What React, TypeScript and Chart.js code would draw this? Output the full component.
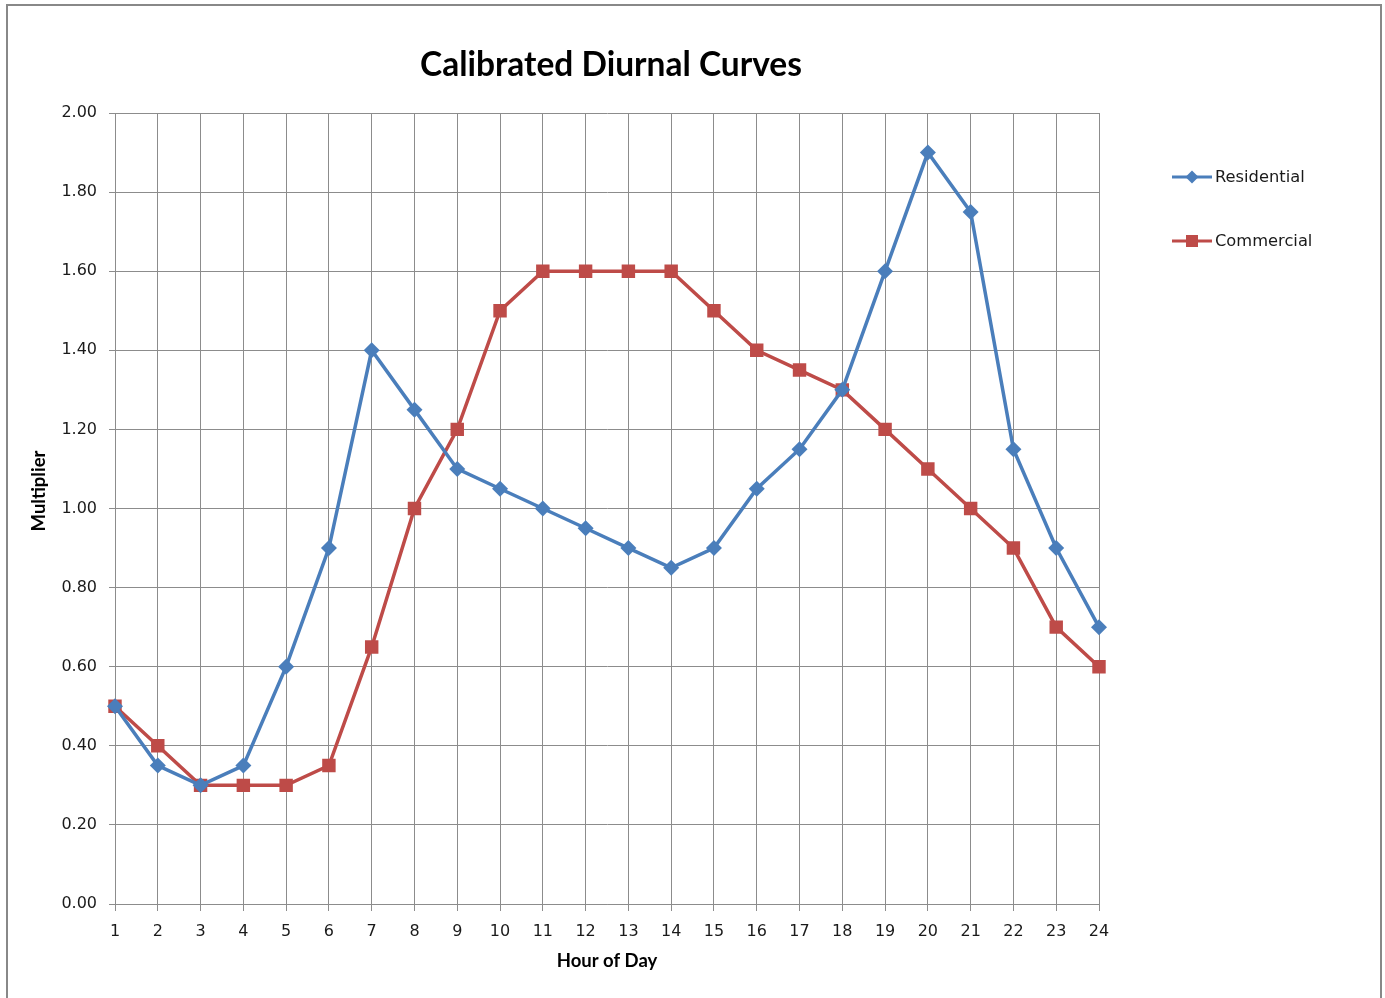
import React, { useEffect, useRef } from "react";
import { Chart, registerables } from "chart.js";

Chart.register(...registerables);

const hours: string[] = ["1","2","3","4","5","6","7","8","9","10","11","12","13","14","15","16","17","18","19","20","21","22","23","24"];
const residential: number[] = [0.5,0.35,0.3,0.35,0.6,0.9,1.4,1.25,1.1,1.05,1.0,0.95,0.9,0.85,0.9,1.05,1.15,1.3,1.6,1.9,1.75,1.15,0.9,0.7];
const commercial: number[] = [0.5,0.4,0.3,0.3,0.3,0.35,0.65,1.0,1.2,1.5,1.6,1.6,1.6,1.6,1.5,1.4,1.35,1.3,1.2,1.1,1.0,0.9,0.7,0.6];
const seriesNames: string[] = ["Residential", "Commercial"];
const chartTitle = "Calibrated Diurnal Curves";
const yTitle = "Multiplier";
const xTitle = "Hour of Day";

const BLUE = "#4A7EBB";
const RED = "#BE4B48";
const GRID = "#8c8c8c";
const TICK_FONT = "'DejaVu Sans', sans-serif";
const TITLE_FONT = "Lato, 'Open Sans', sans-serif";

const framePlugin = {
  id: "frame",
  beforeDraw(chart: any) {
    const ctx = chart.ctx;
    ctx.save();
    ctx.fillStyle = "#ffffff";
    ctx.fillRect(0, 0, chart.width, chart.height);
    ctx.strokeStyle = "#888888";
    ctx.lineWidth = 2;
    ctx.strokeRect(7, 5, 1374, 1010);
    ctx.restore();
  },
};

const textPlugin = {
  id: "texts",
  afterDraw(chart: any) {
    const ctx = chart.ctx;
    ctx.save();
    ctx.fillStyle = "#000000";
    ctx.textAlign = "center";
    ctx.textBaseline = "middle";
    ctx.font = `bold 33.5px ${TITLE_FONT}`;
    ctx.fillText(chartTitle, 611, 65);
    ctx.translate(39, 491);
    ctx.rotate(-Math.PI / 2);
    ctx.font = `bold 18.5px ${TITLE_FONT}`;
    ctx.fillText(yTitle, 0, 0);
    ctx.restore();
  },
};

const legendPlugin = {
  id: "customLegend",
  afterDraw(chart: any) {
    const ctx = chart.ctx;
    const items = [
      { label: seriesNames[0], color: BLUE, style: "diamond", y: 177 },
      { label: seriesNames[1], color: RED, style: "square", y: 241 },
    ];
    ctx.save();
    for (const it of items) {
      ctx.strokeStyle = it.color;
      ctx.fillStyle = it.color;
      ctx.lineWidth = 3;
      ctx.beginPath();
      ctx.moveTo(1172, it.y);
      ctx.lineTo(1212, it.y);
      ctx.stroke();
      ctx.beginPath();
      if (it.style === "diamond") {
        ctx.moveTo(1192, it.y - 6.5);
        ctx.lineTo(1198.5, it.y);
        ctx.lineTo(1192, it.y + 6.5);
        ctx.lineTo(1185.5, it.y);
        ctx.closePath();
        ctx.fill();
      } else {
        ctx.fillRect(1186, it.y - 6, 12, 12);
      }
      ctx.fillStyle = "#1a1a1a";
      ctx.font = `16.3px ${TICK_FONT}`;
      ctx.textAlign = "left";
      ctx.textBaseline = "middle";
      ctx.fillText(it.label, 1215, it.y + 1);
    }
    ctx.restore();
  },
};

export default function App() {
  const ref = useRef<HTMLCanvasElement | null>(null);
  useEffect(() => {
    if (!ref.current) return;
    const chart = new Chart(ref.current, {
      type: "line",
      data: {
        labels: hours,
        datasets: [
          {
            label: seriesNames[0],
            data: residential,
            borderColor: BLUE,
            backgroundColor: BLUE,
            borderWidth: 3.5,
            pointStyle: "rectRot",
            pointRadius: 8,
            pointBorderWidth: 0,
            tension: 0,
          },
          {
            label: seriesNames[1],
            data: commercial,
            borderColor: RED,
            backgroundColor: RED,
            borderWidth: 3.5,
            pointStyle: "rect",
            pointRadius: 9.5,
            pointBorderWidth: 0,
            tension: 0,
          },
        ],
      },
      options: {
        responsive: false,
        animation: false,
        devicePixelRatio: 1,
        layout: { padding: { left: 0, top: 113, right: 286, bottom: 0 } },
        plugins: {
          legend: { display: false },
          tooltip: { enabled: false },
          title: { display: false },
        },
        scales: {
          x: {
            offset: false,
            grid: { color: GRID, lineWidth: 1, tickLength: 7, drawTicks: true },
            border: { color: GRID, width: 1 },
            ticks: {
              color: "#1a1a1a",
              font: { family: TICK_FONT, size: 16 },
              padding: 11,
              maxRotation: 0,
              autoSkip: false,
            },
            title: {
              display: true,
              text: xTitle,
              color: "#000000",
              font: { family: TITLE_FONT, size: 18.5, weight: "bold" },
              padding: { top: 0, bottom: 26 },
            },
            afterFit(scale: any) {
              scale.height = 94;
            },
          },
          y: {
            min: 0,
            max: 2,
            grid: { color: GRID, lineWidth: 1, tickLength: 6, drawTicks: true },
            border: { color: GRID, width: 1 },
            ticks: {
              stepSize: 0.2,
              color: "#1a1a1a",
              font: { family: TICK_FONT, size: 16 },
              padding: 12,
              callback: (v: any) => Number(v).toFixed(2),
            },
            title: { display: false },
            afterFit(scale: any) {
              scale.width = 115;
            },
          },
        },
      },
      plugins: [framePlugin, textPlugin, legendPlugin],
    });
    return () => chart.destroy();
  }, []);
  return (
    <div style={{ position: "fixed", left: 0, top: 0, width: 1385, height: 998, background: "#fff" }}>
      <canvas ref={ref} width={1385} height={998} style={{ display: "block", width: 1385, height: 998 }} />
    </div>
  );
}
